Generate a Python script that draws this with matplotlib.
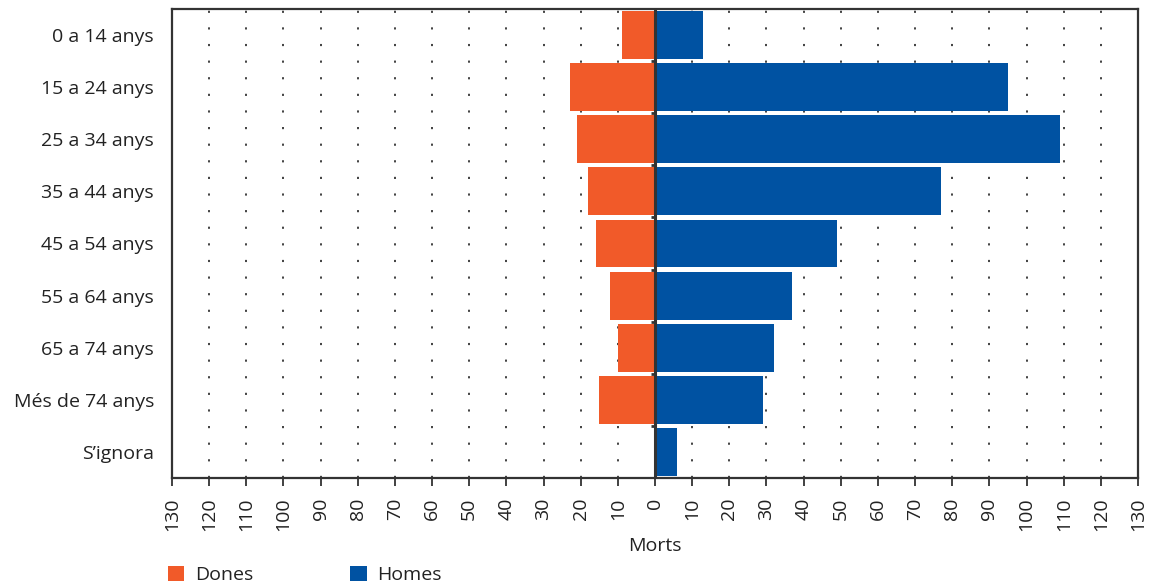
import matplotlib
matplotlib.use("Agg")
import matplotlib.pyplot as plt
import numpy as np
from matplotlib.patches import Patch

categories = ["0 a 14 anys", "15 a 24 anys", "25 a 34 anys", "35 a 44 anys",
              "45 a 54 anys", "55 a 64 anys", "65 a 74 anys", "Més de 74 anys", "S\u2019ignora"]
dones = [9, 23, 21, 18, 16, 12, 10, 15, 0]
homes = [13, 95, 109, 77, 49, 37, 32, 29, 6]
ticks = list(range(-130, 131, 10))
tick_labels = [str(abs(t)) for t in ticks]

c_dones = "#F15A29"
c_homes = "#0052A2"

plt.rcParams['font.family'] = ['Open Sans', 'DejaVu Sans']
FS = 14

fig = plt.figure(figsize=(11.53, 5.84), dpi=100)
ax = fig.add_axes([172/1153, 1-478/584, (1138-172)/1153, (478-9)/584])

y = np.arange(len(categories))
ax.barh(y, [-d for d in dones], height=0.92, color=c_dones, zorder=3)
ax.barh(y, homes, height=0.92, color=c_homes, zorder=3)

ax.set_xlim(-130, 130)
ax.set_ylim(len(categories) - 0.5, -0.5)
ax.set_yticks(y)
ax.set_yticklabels(categories, fontsize=FS, color="#222222")
ax.tick_params(axis='y', length=0, pad=13)
ax.set_xticks(ticks)
ax.set_xticklabels(tick_labels, rotation=90, fontsize=FS, color="#222222")
ax.tick_params(axis='x', length=6, width=1.3, color="#333333", direction='out', pad=8)

for t in ticks:
    if t not in (-130, 0, 130):
        ax.axvline(t, color="#333333", linestyle=(0, (1.2, 8)), linewidth=1.3, zorder=1)
ax.axvline(0, color="#333333", linewidth=2.2, zorder=4)

# small ticks on the zero line at category boundaries
for b in np.arange(len(categories) - 1) + 0.5:
    ax.plot([-1.2, 0], [b, b], color="#333333", linewidth=2, zorder=4, solid_capstyle='butt')

for s in ax.spines.values():
    s.set_color("#333333")
    s.set_linewidth(1.6)

ax.set_xlabel("Morts", fontsize=FS, color="#222222", labelpad=4)

handles = [Patch(facecolor=c_dones, label="Dones"), Patch(facecolor=c_homes, label="Homes")]
leg = fig.legend(handles=handles, loc='lower left', bbox_to_anchor=(150/1153, -0.03),
                 ncol=2, frameon=False, fontsize=FS, handlelength=0.85, handleheight=0.85,
                 handletextpad=0.55, columnspacing=5.0)
for t in leg.get_texts():
    t.set_color("#222222")

fig.savefig("out.png", dpi=100)
